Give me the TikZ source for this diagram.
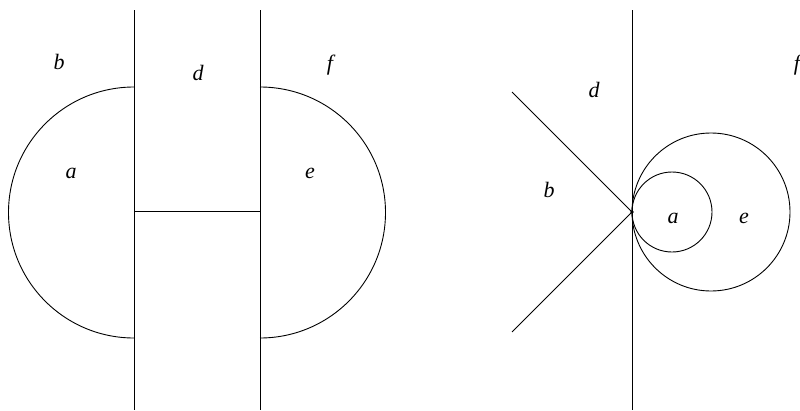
\documentclass[tikz,border=0pt]{standalone}
\usepackage{fontspec}
\setmainfont{Liberation Serif}
\usetikzlibrary{positioning}
\tikzset{
  line cap=round,
  line join=round,
  every picture/.style={line width=0.9pt},
  region/.style={font=\fontsize{22}{26}\selectfont\itshape, inner sep=0pt},
  point/.style={circle, fill, inner sep=1.3pt}
}
\begin{document}
\begin{tikzpicture}[x=1pt,y=-1pt]
    \useasboundingbox (0,0) rectangle (800,410);

    % left figure: two walls with half discs
    \draw (134,10) -- (134,410);
    \draw (260,10) -- (260,410);
    \draw (134,211) -- (260,211);
    \draw (134,87) arc[start angle=270, end angle=90, radius=125.5];
    \draw (260,87) arc[start angle=270, end angle=450, radius=125.5];

    % region labels (left)
    \node[region] (lb) at (59,62) {b};
    \node[region] (ld) at (198,73) {d};
    \node[region] (lf) at (330,65) {f};
    \node[region] (la) at (71,173) {a};
    \node[region] (le) at (310,173) {e};

    % right figure: wall, wedge and tangent circles
    \draw (632,10) -- (632,410);
    \coordinate (p) at (632,212);
    \draw (512,92) -- (p) -- (512,332);
    \draw (711,212) circle[radius=79];
    \draw (672,212) circle[radius=40];
    \node[point] (dot) at (p) {};

    % region labels (right)
    \node[region] (rd) at (594,90) {d};
    \node[region] (rf) at (797,65) {f};
    \node[region] (rb) at (549,190) {b};
    \node[region] (ra) at (673,218) {a};
    \node[region] (re) at (744,218) {e};
\end{tikzpicture}
\end{document}
